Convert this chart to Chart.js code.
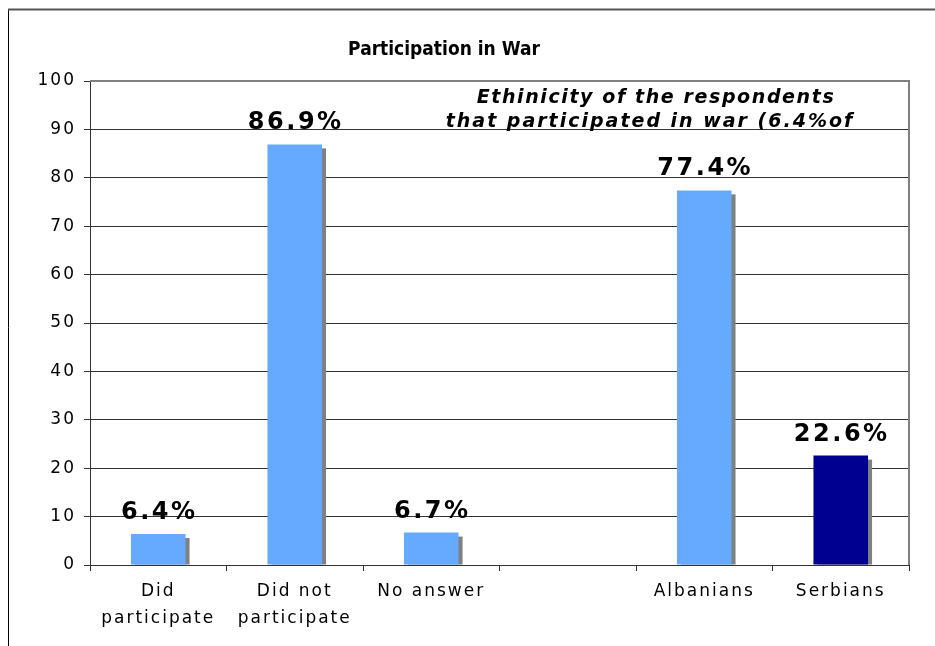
<!DOCTYPE html>
<html lang="en">
<head>
<meta charset="UTF-8">
<title>Participation in War</title>
<style>
body {
    margin: 0;
    background: white;
}
#chart {
    display: block;
}
</style>
</head>
<body>
<canvas id="chart" width="935" height="646"></canvas>

<script src="https://cdn.jsdelivr.net/npm/chart.js"></script>
<script>
// data
const categories = [['Did', 'participate'], ['Did not', 'participate'], 'No answer', '', 'Albanians', 'Serbians'];
const shares = [6.4, 86.9, 6.7, null, 77.4, 22.6];
const barColors = ['#66aaff', '#66aaff', '#66aaff', '#66aaff', '#66aaff', '#000090'];
const yTicks = [0, 10, 20, 30, 40, 50, 60, 70, 80, 90, 100];
const titleText = 'Participation in War';
const noteLines = ['Ethinicity of the respondents', 'that participated in war (6.4%of'];

const FONT = "'DejaVu Sans', Verdana, sans-serif";

// frame, title, plot border, shadows and labels
const decor = {
    id: 'decor',
    beforeDraw(chart) {
        const ctx = chart.ctx;
        ctx.save();
        ctx.strokeStyle = '#000';
        ctx.lineWidth = 1;
        ctx.beginPath();
        ctx.moveTo(8.5, 9);
        ctx.lineTo(8.5, 646);
        ctx.stroke();
        ctx.strokeStyle = '#555';
        ctx.lineWidth = 2;
        ctx.beginPath();
        ctx.moveTo(8, 9.5);
        ctx.lineTo(935, 9.5);
        ctx.stroke();
        ctx.fillStyle = '#000';
        ctx.font = "bold 19px 'DejaVu Sans Condensed', 'DejaVu Sans', sans-serif";
        ctx.textAlign = 'center';
        ctx.textBaseline = 'alphabetic';
        ctx.letterSpacing = '0px';
        ctx.fillText(titleText, 444, 55);
        ctx.restore();
        // spaced-out tick text like the original
        ctx.letterSpacing = '2px';
    },
    beforeDatasetsDraw(chart) {
        const ctx = chart.ctx;
        const a = chart.chartArea;
        ctx.save();
        ctx.strokeStyle = '#808080';
        ctx.lineWidth = 2;
        ctx.beginPath();
        ctx.moveTo(a.left, a.top);
        ctx.lineTo(a.right, a.top);
        ctx.lineTo(a.right, a.bottom);
        ctx.stroke();
        ctx.fillStyle = '#808080';
        chart.getDatasetMeta(0).data.forEach((bar, i) => {
            if (shares[i] == null) return;
            const w = bar.width;
            ctx.fillRect(bar.x - w / 2 + 4, bar.y + 4, w, bar.base - bar.y - 4);
        });
        ctx.restore();
    },
    afterDatasetsDraw(chart) {
        const ctx = chart.ctx;
        ctx.save();
        ctx.fillStyle = '#000';
        ctx.textAlign = 'center';
        ctx.textBaseline = 'alphabetic';
        ctx.font = 'bold 24px ' + FONT;
        ctx.letterSpacing = '2.5px';
        chart.getDatasetMeta(0).data.forEach((bar, i) => {
            if (shares[i] == null) return;
            ctx.fillText(shares[i].toFixed(1) + '%', bar.x + 1, bar.y - 15);
        });
        ctx.font = 'italic bold 19px ' + FONT;
        ctx.letterSpacing = '1.6px';
        ctx.fillText(noteLines[0], 656, 103);
        ctx.letterSpacing = '2px';
        ctx.fillText(noteLines[1], 650, 127);
        ctx.restore();
    }
};

new Chart(document.getElementById('chart'), {
    type: 'bar',
    data: {
        labels: categories,
        datasets: [{
            data: shares,
            backgroundColor: barColors,
            borderWidth: 0,
            categoryPercentage: 1,
            barPercentage: 0.4
        }]
    },
    options: {
        responsive: false,
        animation: false,
        layout: { padding: { left: 0, right: 26, top: 81, bottom: 0 } },
        plugins: {
            legend: { display: false },
            tooltip: { enabled: false },
            title: { display: false }
        },
        scales: {
            x: {
                offset: true,
                grid: {
                    offset: true,
                    drawOnChartArea: false,
                    color: '#333',
                    tickLength: 6
                },
                border: { color: '#333', width: 1 },
                ticks: {
                    color: '#000',
                    font: { family: FONT, size: 17, lineHeight: 1.6 },
                    padding: 7,
                    maxRotation: 0,
                    autoSkip: false
                },
                afterFit(scale) { scale.height = 81; }
            },
            y: {
                min: 0,
                max: 100,
                afterBuildTicks(scale) { scale.ticks = yTicks.map(v => ({ value: v })); },
                grid: {
                    color: '#333',
                    tickLength: 6
                },
                border: { color: '#333', width: 1 },
                ticks: {
                    color: '#000',
                    font: { family: FONT, size: 17 },
                    padding: 8
                },
                afterFit(scale) { scale.width = 90; }
            }
        }
    },
    plugins: [decor]
});
</script>
</body>
</html>
